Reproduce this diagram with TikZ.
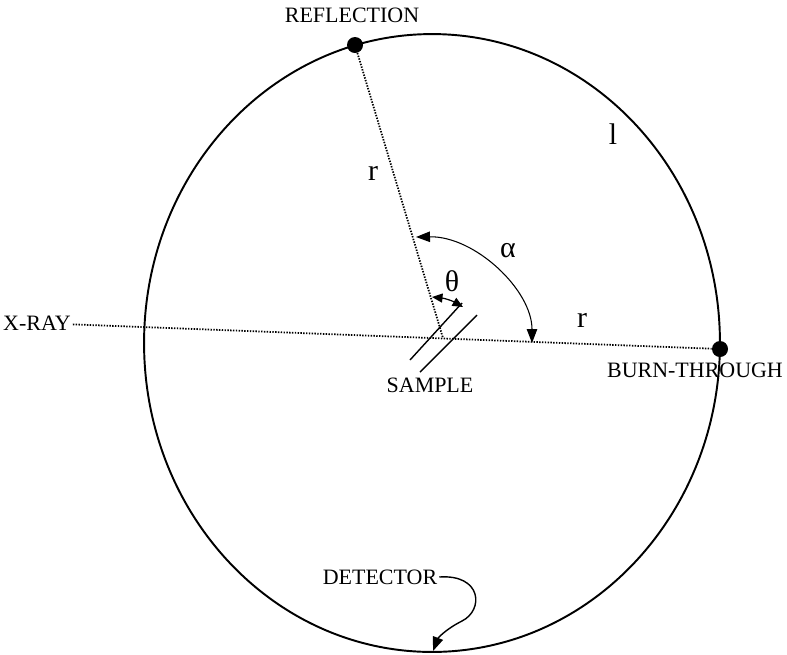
\documentclass[tikz,border=0pt]{standalone}
\usepackage{fontspec}
\setmainfont{Liberation Serif}
\usetikzlibrary{arrows.meta}
\tikzset{
  rim/.style   = {line width=1.1pt},
  ray/.style   = {line width=1pt, dash pattern=on 0.8pt off 0.8pt},
  spot/.style  = {circle, fill=black, minimum size=3.2mm, inner sep=0pt},
  label/.style = {font=\fontsize{12.5}{14}\selectfont, inner sep=1pt},
  sym/.style   = {font=\fontsize{17}{19}\selectfont, inner sep=0pt},
  plate/.style = {line width=0.8pt},
  angle arrow/.style = {line width=0.6pt,
                        {Triangle[length=2.8mm,width=2.1mm]}-{Triangle[length=2.8mm,width=2.1mm]}},
  small arrow/.style = {line width=0.7pt,
                        {Triangle[length=2.1mm,width=1.8mm]}-{Triangle[length=2.1mm,width=1.8mm]}},
  point arrow/.style = {line width=0.8pt, -{Triangle[length=2.8mm,width=2.1mm]}},
}

\begin{document}
\begin{tikzpicture}[x=0.02cm, y=-0.02cm]
\useasboundingbox (0,0) rectangle (787,654);

% =====================================================================
% Circle of the camera
% =====================================================================
\draw[rim] (432,343) ellipse [x radius=5.76cm, y radius=6.18cm];

% points on the circle
\node[spot] (refl) at (355,45)  {};
\node[spot] (burn) at (720,349) {};
\coordinate (detpt) at (433,651);
\coordinate (smp)   at (443,338);

% labels
\node[label] (refltxt) at (352,15)  {REFLECTION};
\node[label] (xray)    at (37,323)  {X-RAY};
\node[label] (burntxt) at (695,370) {BURN-THROUGH};
\node[label] (smptxt)  at (430,385) {SAMPLE};
\node[label] (det)     at (380,577) {DETECTOR};

% =====================================================================
% Beams
% =====================================================================
\draw[ray] (xray) -- (burn);
\draw[ray] (refl) -- (smp);

% sample plates
\draw[plate] (410,360) -- (462,303);
\draw[plate] (420,372) -- (477,315);

% =====================================================================
% Angles and radii
% =====================================================================
\coordinate (a1) at (416,237);
\coordinate (a2) at (532,343);
\draw[angle arrow] (a1) .. controls (475,236) and (532,290) .. (a2);
\node[sym] (alpha) at (508,251) {α};

\coordinate (t1) at (432,297);
\coordinate (t2) at (463,307);
\draw[small arrow] (t1) to[bend left=12] (t2);
\node[sym] (theta) at (452,281) {θ};

\node[sym] (r1) at (373,173) {r};
\node[sym] (r2) at (582,320) {r};
\node[sym] (ell) at (613,134) {l};

% detector pointer
\draw[point arrow] (det.east) .. controls (482,574) and (484,610) .. (462,621)
  .. controls (446,629) and (438,638) .. (detpt);

\end{tikzpicture}
\end{document}
